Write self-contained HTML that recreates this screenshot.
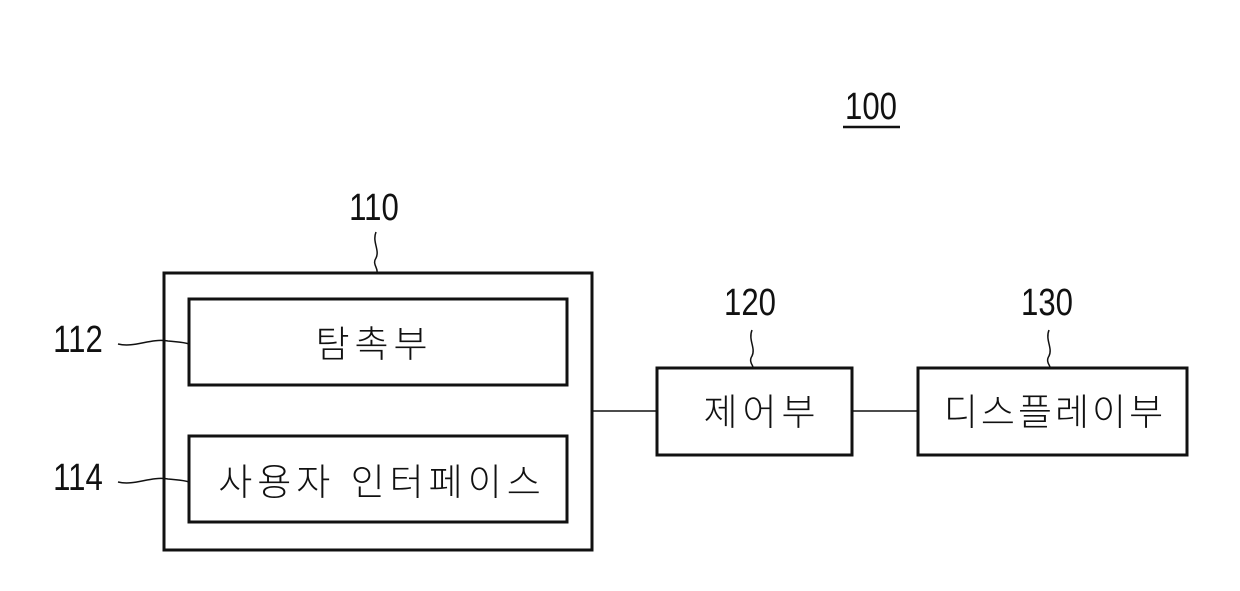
<!DOCTYPE html>
<html><head><meta charset="utf-8"><style>
body{margin:0;background:#fff;}
svg text{font-family:"Liberation Sans","Noto Sans CJK KR",sans-serif;fill:#111;}
.n{font-size:38px;}
.k{font-size:37px;font-weight:300;}
</style></head><body>
<svg width="1240" height="586" viewBox="0 0 1240 586" xmlns="http://www.w3.org/2000/svg">
<g fill="none" stroke="#111" stroke-width="3">
<rect x="164" y="273" width="428" height="277"/>
<rect x="189" y="299" width="378" height="86"/>
<rect x="189" y="436" width="378" height="86"/>
<rect x="657" y="368" width="195" height="87"/>
<rect x="918" y="368" width="269" height="87"/>
</g>
<g fill="none" stroke="#111" stroke-width="1.5">
<line x1="592" y1="411" x2="657" y2="411"/>
<line x1="852" y1="411" x2="918" y2="411"/>
<line x1="843" y1="127" x2="900" y2="127" stroke-width="2.5"/>
<path d="M376 232 C372 242,380 250,376 258 C372 264,378 268,377 272"/>
<path d="M118 344 C135 348,150 338,168 341 C178 342,184 342,189 344"/>
<path d="M118 482 C135 486,150 476,168 479 C178 480,184 480,189 482"/>
<path d="M752 330 C748 340,756 348,752 356 C748 362,754 366,753 368"/>
<path d="M1049 330 C1045 340,1053 348,1049 356 C1045 362,1051 366,1050 368"/>
</g>
<g class="n">
<text x="871" y="119" text-anchor="middle" transform="translate(871 0) scale(0.82 1) translate(-871 0)">100</text>
<text x="374" y="220" text-anchor="middle" transform="translate(374 0) scale(0.82 1) translate(-374 0)">110</text>
<text x="78" y="352" text-anchor="middle" transform="translate(78 0) scale(0.82 1) translate(-78 0)">112</text>
<text x="78" y="490" text-anchor="middle" transform="translate(78 0) scale(0.82 1) translate(-78 0)">114</text>
<text x="750" y="315" text-anchor="middle" transform="translate(750 0) scale(0.82 1) translate(-750 0)">120</text>
<text x="1047" y="315" text-anchor="middle" transform="translate(1047 0) scale(0.82 1) translate(-1047 0)">130</text>
</g>
<g class="k">
<text x="374" y="357" text-anchor="middle" letter-spacing="5">탐촉부</text>
<text x="382" y="495" text-anchor="middle" letter-spacing="5">사용자 인터페이스</text>
<text x="762" y="425" text-anchor="middle" letter-spacing="5">제어부</text>
<text x="1055" y="425" text-anchor="middle" letter-spacing="3">디스플레이부</text>
</g>
</svg>
</body></html>
